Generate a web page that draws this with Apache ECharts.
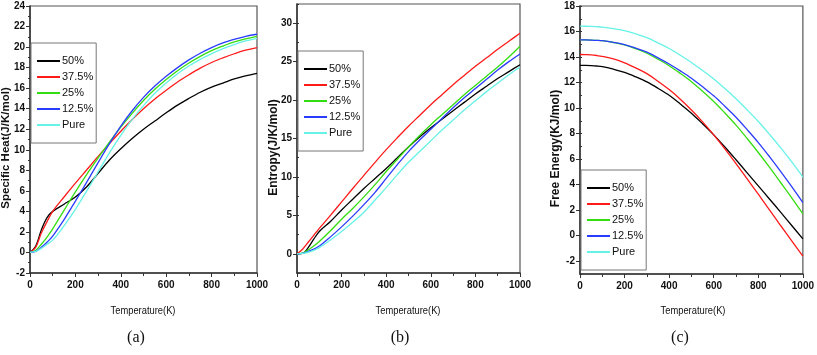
<!DOCTYPE html>
<html>
<head>
<meta charset="utf-8">
<script src="https://cdn.jsdelivr.net/npm/echarts@6/dist/echarts.min.js"></script>
<style>
html,body{margin:0;padding:0;background:#fff;}
#chart{width:817px;height:355px;}
</style>
</head>
<body>
<div id="chart"></div>
<script>
// Temperature grid (K)
const temps = [0,25,50,75,100,150,200,250,300,350,400,450,500,550,600,650,700,750,800,850,900,950,1000];
const seriesNames = ['50%','37.5%','25%','12.5%','Pure'];
const seriesColors = ['#000000','#ff1a1a','#33dd11','#2a3cff','#66f2e6'];

// (a) Specific Heat (J/K/mol)
const cp50   = [0,0.6,2.2,3.4,4.0,4.7,5.4,6.4,7.7,9.0,10.1,11.1,12.0,12.8,13.6,14.35,15.0,15.6,16.1,16.5,16.9,17.2,17.45];
const cp375  = [0,0.5,1.9,3.0,4.0,5.4,6.75,8.05,9.35,10.6,11.8,12.95,14.0,14.95,15.8,16.6,17.3,17.95,18.5,18.95,19.35,19.7,19.95];
const cp25   = [0,0.2,0.8,1.5,2.3,4.1,5.9,7.6,9.2,10.75,12.2,13.55,14.8,15.9,16.85,17.7,18.45,19.1,19.65,20.1,20.5,20.8,21.05];
const cp125  = [0,0.1,0.5,1.0,1.6,3.2,5.0,6.85,8.75,10.6,12.3,13.8,15.1,16.2,17.15,18.0,18.75,19.4,19.95,20.4,20.75,21.05,21.25];
const cpPure = [0,0.1,0.4,0.8,1.2,2.6,4.2,6.0,7.85,9.7,11.4,12.95,14.3,15.5,16.5,17.4,18.15,18.8,19.35,19.85,20.25,20.6,20.85];

// (b) Entropy (J/K/mol)
const s50   = [0,0.05,0.8,1.9,2.9,4.2,5.7,7.1,8.5,9.8,11.1,12.5,13.9,15.2,16.4,17.5,18.6,19.7,20.8,21.8,22.8,23.7,24.6];
const s375  = [0,0.6,1.5,2.4,3.3,5.0,6.75,8.5,10.2,11.9,13.55,15.1,16.6,18.0,19.4,20.7,22.0,23.2,24.4,25.5,26.6,27.65,28.7];
const s25   = [0,0.1,0.5,1.0,1.6,3.0,4.5,5.9,7.4,9.0,10.7,12.3,13.9,15.4,16.8,18.1,19.4,20.7,21.9,23.1,24.3,25.6,27.0];
const s125  = [0,0.05,0.3,0.6,1.0,2.2,3.5,4.9,6.4,8.0,9.8,11.6,13.3,14.8,16.2,17.6,19.0,20.3,21.5,22.7,23.9,25.0,26.0];
const sPure = [0,0.05,0.2,0.45,0.8,1.8,2.9,4.1,5.4,7.0,8.6,10.3,11.9,13.3,14.7,16.1,17.4,18.7,19.9,21.1,22.2,23.3,24.3];

// (c) Free Energy (KJ/mol)
const g50   = [13.35,13.345,13.33,13.3,13.25,13.05,12.8,12.45,12.05,11.55,11.0,10.32,9.6,8.77,7.9,6.95,5.95,4.93,3.9,2.88,1.85,0.8,-0.25];
const g375  = [14.2,14.19,14.17,14.12,14.05,13.85,13.55,13.15,12.7,12.1,11.45,10.7,9.85,8.92,7.9,6.8,5.65,4.45,3.25,2.03,0.8,-0.4,-1.6];
const g25   = [15.35,15.345,15.33,15.31,15.28,15.14,14.95,14.65,14.3,13.83,13.32,12.72,12.07,11.32,10.52,9.62,8.67,7.62,6.52,5.37,4.17,2.96,1.72];
const g125  = [15.35,15.345,15.33,15.31,15.28,15.15,14.98,14.7,14.38,13.94,13.46,12.92,12.34,11.67,10.96,10.14,9.28,8.31,7.3,6.2,5.05,3.85,2.6];
const gPure = [16.42,16.415,16.4,16.38,16.35,16.23,16.07,15.81,15.52,15.11,14.67,14.14,13.57,12.94,12.28,11.53,10.73,9.86,8.95,7.95,6.9,5.78,4.6];

// tick labels
const xTicks = [0,200,400,600,800,1000];
const yTicksA = [-2,0,2,4,6,8,10,12,14,16,18,20,22,24];
const yTicksB = [0,5,10,15,20,25,30];
const yTicksC = [-2,0,2,4,6,8,10,12,14,16,18];

const panelData = [
  [cp50, cp375, cp25, cp125, cpPure],
  [s50, s375, s25, s125, sPure],
  [g50, g375, g25, g125, gPure]
];

const sans = "'Liberation Sans', Arial, sans-serif";
const serif = "'Liberation Serif', 'Times New Roman', serif";

const grids = [
  {left:30, top:6, width:227, height:267},
  {left:297, top:4, width:223, height:269},
  {left:580, top:6, width:226, height:268}
].map(g => Object.assign({show:true, borderColor:'#555', borderWidth:1.2, backgroundColor:'#fff'}, g));

const labelStyle = {color:'#111', fontFamily:sans, fontWeight:'bold', fontSize:10};

function xAxisFor(i){
  return {
    type:'value', gridIndex:i, min:0, max:1000, interval:200,
    axisLine:{show:true, onZero:false, lineStyle:{color:'#333', width:1.5}},
    axisTick:{show:true, length:4, lineStyle:{color:'#333', width:1}},
    minorTick:{show:true, splitNumber:2, length:3, lineStyle:{color:'#333', width:1}},
    axisLabel:Object.assign({margin:7, customValues:xTicks, formatter: v => String(v)}, labelStyle),
    splitLine:{show:false}, minorSplitLine:{show:false}
  };
}

const yAxes = [
  {
    type:'value', gridIndex:0, min:-2, max:24, interval:2,
    axisLine:{show:true, onZero:false, lineStyle:{color:'#333', width:1.5}},
    axisTick:{show:true, length:4, lineStyle:{color:'#333'}},
    minorTick:{show:true, splitNumber:2, length:2, lineStyle:{color:'#333'}},
    axisLabel:Object.assign({margin:5, customValues:yTicksA, formatter: v => String(v)}, labelStyle),
    splitLine:{show:false}
  },
  {
    type:'value', gridIndex:1, min:-2.5, max:32.5, interval:2.5,
    axisLine:{show:true, onZero:false, lineStyle:{color:'#333', width:1.5}},
    axisTick:{show:true, length:4, lineStyle:{color:'#333'}, customValues:yTicksB},
    axisLabel:Object.assign({margin:5, customValues:yTicksB,
      formatter: v => (Math.abs(v % 5) < 1e-9 ? String(v) : '')}, labelStyle),
    splitLine:{show:false}
  },
  {
    type:'value', gridIndex:2, min:-3, max:18, interval:1,
    axisLine:{show:true, onZero:false, lineStyle:{color:'#333', width:1.5}},
    axisTick:{show:true, length:4, lineStyle:{color:'#333'}, customValues:yTicksC},
    axisLabel:Object.assign({margin:5, customValues:yTicksC,
      formatter: v => (Math.abs(v % 2) < 1e-9 ? String(v) : '')}, labelStyle),
    splitLine:{show:false}
  },
  // minor tick overlays for (b) and (c)
  {
    type:'value', gridIndex:1, min:-2.5, max:32.5, interval:2.5,
    axisLine:{show:false}, axisLabel:{show:false}, splitLine:{show:false},
    axisTick:{show:true, length:2, lineStyle:{color:'#333'}}
  },
  {
    type:'value', gridIndex:2, min:-3, max:18, interval:1,
    axisLine:{show:false}, axisLabel:{show:false}, splitLine:{show:false},
    axisTick:{show:true, length:2, lineStyle:{color:'#333'}}
  }
];

const series = [];
panelData.forEach((arrs, p) => {
  arrs.forEach((vals, k) => {
    series.push({
      type:'line', name:seriesNames[k], xAxisIndex:p, yAxisIndex:p,
      data: temps.map((t, j) => [t, vals[j]]),
      showSymbol:false, smooth:0.35,
      lineStyle:{color:seriesColors[k], width:1.3},
      itemStyle:{color:seriesColors[k]},
      z: 2 + k
    });
  });
});

function legendAt(left, top){
  return {
    orient:'vertical', left:left, top:top,
    data: seriesNames.map(n => ({name:n, icon:'rect'})),
    itemWidth:23, itemHeight:2, itemGap:2,
    padding:[11,3,11,6],
    borderColor:'#777', borderWidth:1, backgroundColor:'#fff',
    selectedMode:false,
    textStyle:{fontFamily:sans, fontSize:11, color:'#111', lineHeight:14, padding:[0,0,0,-3]}
  };
}

const graphics = [];
function addText(x, y, text, font, rot, sx){
  graphics.push({type:'text', x:x, y:y, rotation:rot||0, scaleX: sx||1,
    style:{text:text, font:font, fill:'#111', textAlign:'center', textVerticalAlign:'middle'}});
}
addText(6, 148, 'Specific Heat(J/K/mol)', 'bold 11.5px ' + sans, Math.PI/2);
addText(273.5, 147.5, 'Entropy(J/K/mol)', 'bold 12px ' + sans, Math.PI/2);
addText(556, 148.5, 'Free Energy(KJ/mol)', 'bold 12px ' + sans, Math.PI/2);
addText(143, 311, 'Temperature(K)', '11px ' + sans, 0, 0.85);
addText(408, 311, 'Temperature(K)', '11px ' + sans, 0, 0.85);
addText(693, 311, 'Temperature(K)', '11px ' + sans, 0, 0.85);
addText(136, 338, '(a)', '16px ' + serif);
addText(400, 338, '(b)', '16px ' + serif);
addText(680, 338, '(c)', '16px ' + serif);

const chart = echarts.init(document.getElementById('chart'), null, {renderer:'canvas'});
chart.setOption({
  animation:false,
  backgroundColor:'#fff',
  grid: grids,
  xAxis: [xAxisFor(0), xAxisFor(1), xAxisFor(2)],
  yAxis: yAxes,
  legend: [legendAt(31,43), legendAt(298,51), legendAt(581,170)],
  series: series,
  graphic: graphics
});
</script>
</body>
</html>
